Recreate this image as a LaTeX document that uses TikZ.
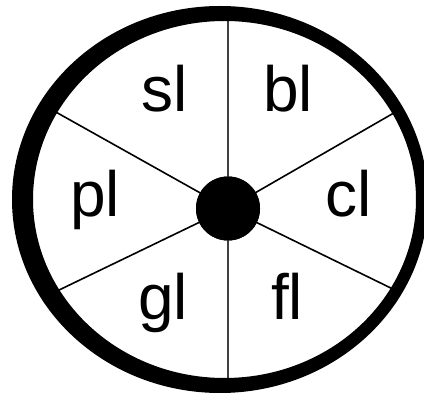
\documentclass[tikz,border=0pt]{standalone}
\usepackage{fontspec}
\setmainfont{Liberation Sans}
\begin{document}
\begin{tikzpicture}[x=1pt,y=1pt,
  lbl/.style={anchor=base,inner sep=0pt,font=\fontsize{64}{64}\selectfont},
  spoke/.style={line width=1.6pt,black},
  vspoke/.style={line width=2pt,black!75}]
\useasboundingbox (0,0) rectangle (424,396);
\clip (0,0) rectangle (424,396);
\fill[white] (0,0) rectangle (424,396);
% spoke ends
\coordinate (t) at (228,380);
\coordinate (b) at (228,14);
\coordinate (ul) at (54,285);
\coordinate (ur) at (399,286);
\coordinate (ll) at (55,104);
\coordinate (lr) at (401,103);
\node[circle,fill=black,minimum size=64pt,inner sep=0pt] (hub) at (228,187.5) {};
\draw[vspoke] (hub.center) -- (t);
\draw[vspoke] (hub.center) -- (b);
\draw[spoke] (hub.center) -- (ul);
\draw[spoke] (hub.center) -- (ur);
\draw[spoke] (hub.center) -- (ll);
\draw[spoke] (hub.center) -- (lr);
\node[circle,fill=black,minimum size=64pt,inner sep=0pt] at (hub) {};
% ring
\fill[black,even odd rule] (220,196.5) ellipse [x radius=208,y radius=193.5]
  (224.5,196.5) ellipse [x radius=191.5,y radius=178.5];
% labels
\node[lbl] (sl) at (165,284) {sl};
\node[lbl] (bl) at (288,284) {bl};
\node[lbl] (pl) at (95,179) {pl};
\node[lbl] (cl) at (349,179) {cl};
\node[lbl] (gl) at (163,76) {gl};
\node[lbl] (fl) at (287,76) {fl};
\end{tikzpicture}
\end{document}
